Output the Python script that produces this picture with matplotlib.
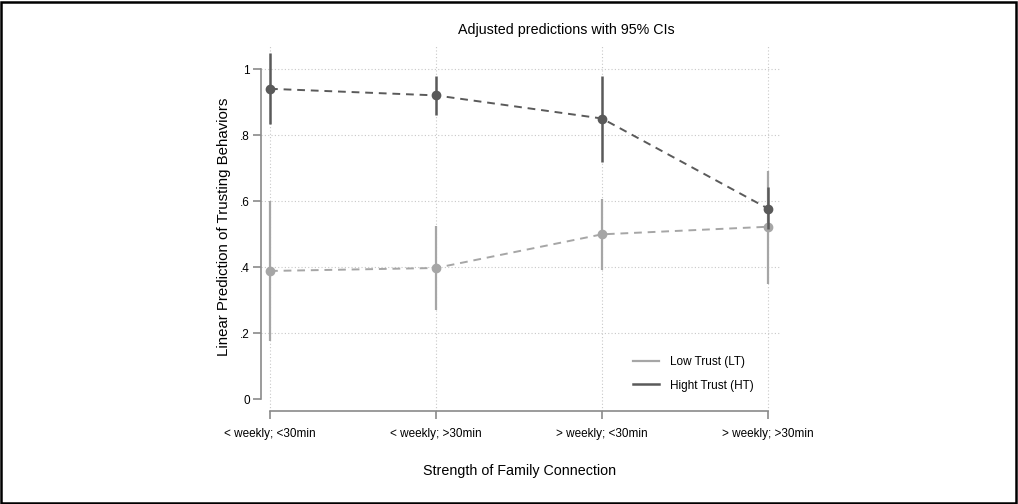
import matplotlib.pyplot as plt
from matplotlib.lines import Line2D
from matplotlib.patches import Rectangle

# Data
categories = ["< weekly; <30min", "< weekly; >30min", "> weekly; <30min", "> weekly; >30min"]
lt_mean = [0.388, 0.397, 0.499, 0.522]
lt_low = [0.175, 0.270, 0.390, 0.350]
lt_high = [0.600, 0.525, 0.607, 0.692]
ht_mean = [0.940, 0.920, 0.850, 0.577]
ht_low = [0.832, 0.861, 0.718, 0.514]
ht_high = [1.050, 0.979, 0.980, 0.642]
y_ticks = [0, 0.2, 0.4, 0.6, 0.8, 1.0]
y_tick_labels = ["0", ".2", ".4", ".6", ".8", "1"]

plt.rcParams.update({
    "font.family": ["Liberation Sans", "DejaVu Sans"],
    "font.size": 8.5,
})

LT_COLOR = "#a6a6a6"
HT_COLOR = "#5a5a5a"
AXIS_COLOR = "#8a8a8a"

fig = plt.figure(figsize=(10.18, 5.04), dpi=100)
ax = fig.add_axes([261 / 1018, 1 - 411 / 504, (780 - 261) / 1018, (411 - 45) / 504])

x = list(range(len(categories)))

# Low trust series
ax.vlines(x, lt_low, lt_high, color=LT_COLOR, linewidth=1.6, zorder=3)
ax.plot(x, lt_mean, color=LT_COLOR, linestyle=(0, (4, 3)), linewidth=1.4,
        marker="o", markersize=6, zorder=4)

# High trust series
ax.vlines(x, ht_low, ht_high, color=HT_COLOR, linewidth=1.8, zorder=5)
ax.plot(x, ht_mean, color=HT_COLOR, linestyle=(0, (4, 3)), linewidth=1.4,
        marker="o", markersize=6, zorder=6)

ax.set_xlim(-9 / 166, 3 + 12 / 166)
ax.set_ylim(-12 / 330, 1 + 24 / 330)

ax.set_xticks(x)
ax.set_xticklabels(categories)
ax.set_yticks(y_ticks)
ax.set_yticklabels(y_tick_labels)

# Grid: dotted light gray
for yv in y_ticks[1:]:
    ax.axhline(yv, color="#c8c8c8", linestyle=(0, (1, 2)), linewidth=0.8, zorder=1)
for xv in x:
    ax.axvline(xv, color="#c8c8c8", linestyle=(0, (1, 2)), linewidth=0.8, zorder=1)

for side in ["top", "right"]:
    ax.spines[side].set_visible(False)
ax.spines["left"].set_bounds(0, 1)
ax.spines["bottom"].set_bounds(0, 3)
for side in ["left", "bottom"]:
    ax.spines[side].set_color(AXIS_COLOR)
    ax.spines[side].set_linewidth(1.2)
ax.tick_params(axis="both", colors=AXIS_COLOR, labelcolor="black", length=6, width=1.2,
               labelsize=8.5)
ax.tick_params(axis="x", pad=6)
ax.tick_params(axis="y", pad=2)

# Titles and labels
fig.text(566 / 1018, 1 - 30 / 504, "Adjusted predictions with 95% CIs",
         ha="center", va="center", fontsize=10.3)
fig.text(520 / 1018, 1 - 471 / 504, "Strength of Family Connection",
         ha="center", va="center", fontsize=10.3)
fig.text(224 / 1018, 1 - 227 / 504, "Linear Prediction of Trusting Behaviors",
         ha="center", va="center", rotation=90, fontsize=10.8)

# Legend
handles = [Line2D([0], [0], color=LT_COLOR, linewidth=1.6),
           Line2D([0], [0], color=HT_COLOR, linewidth=1.8)]
fig.legend(handles, ["Low Trust (LT)", "Hight Trust (HT)"], loc="center left",
           bbox_to_anchor=(627 / 1018, 1 - 374 / 504), frameon=False,
           borderpad=0, handlelength=2.2, handletextpad=0.95, labelspacing=0.95,
           fontsize=8.5)

# Outer border
fig.patches.append(Rectangle((0.001, 0.002), 0.997, 0.995, transform=fig.transFigure,
                             fill=False, edgecolor="black", linewidth=1.8))

fig.savefig("out.png", dpi=100)
